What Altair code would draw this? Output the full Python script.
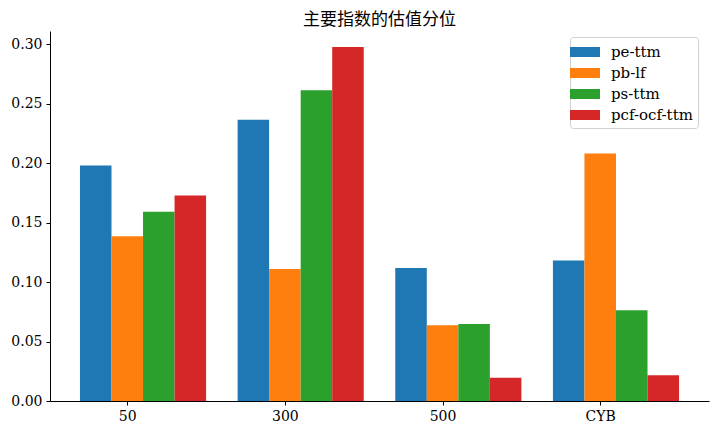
import json
import altair as alt
import pandas as pd

categories = ["50", "300", "500", "CYB"]
series = ["pe-ttm", "pb-lf", "ps-ttm", "pcf-ocf-ttm"]
pe_ttm = [0.198, 0.2364, 0.1118, 0.1182]
pb_lf = [0.1384, 0.1109, 0.0636, 0.2081]
ps_ttm = [0.159, 0.2613, 0.0647, 0.0762]
pcf_ocf_ttm = [0.1728, 0.2975, 0.0196, 0.0216]
colors = ["#1f77b4", "#ff7f0e", "#2ca02c", "#d62728"]

rows = []
for s_i, (name, vals) in enumerate(zip(series, [pe_ttm, pb_lf, ps_ttm, pcf_ocf_ttm])):
    for c_i, (cat, v) in enumerate(zip(categories, vals)):
        rows.append({"cat": cat, "idx": c_i, "series": name, "s": s_i, "value": v})
df = pd.DataFrame(rows)

FONT = "DejaVu Serif, Noto Sans CJK SC"
label_expr = json.dumps(categories) + "[datum.value]"

chart = (
    alt.Chart(df)
    .transform_calculate(x0="datum.idx + (datum.s - 1) * 0.2 - 0.1")
    .transform_calculate(x1="datum.x0 + 0.2")
    .mark_bar()
    .encode(
        x=alt.X(
            "x0:Q",
            scale=alt.Scale(domain=[-0.49, 3.69], nice=False, zero=False),
            axis=alt.Axis(
                values=[0, 1, 2, 3],
                labelExpr=label_expr,
                title=None,
                grid=False,
                tickSize=4,
                labelPadding=4,
            ),
        ),
        x2="x1:Q",
        y=alt.Y(
            "value:Q",
            scale=alt.Scale(domain=[0, 0.311], nice=False, padding=0),
            axis=alt.Axis(
                values=[0, 0.05, 0.1, 0.15, 0.2, 0.25, 0.3],
                format=".2f",
                title=None,
                grid=False,
                tickSize=4,
                labelPadding=4,
            ),
        ),
        y2=alt.datum(0),
        color=alt.Color(
            "series:N",
            scale=alt.Scale(domain=series, range=colors),
            sort=series,
            legend=alt.Legend(
                title=None,
                orient="none",
                legendX=520,
                legendY=6,
                symbolType="M-1.5,-0.5H1.5V0.5H-1.5Z",
                symbolSize=400,
                symbolStrokeWidth=0,
                labelFontSize=15,
                labelFont=FONT,
                labelColor="#000",
                labelOffset=16,
                rowPadding=3,
                padding=5,
                strokeColor="#d0d0d0",
                cornerRadius=3,
                fillColor="white",
            ),
        ),
    )
    .properties(
        width=659,
        height=370,
        title=alt.TitleParams(
            "主要指数的估值分位",
            font=FONT,
            fontSize=17,
            fontWeight="normal",
            color="#000",
            offset=2,
        ),
        autosize=alt.AutoSizeParams(type="none"),
        padding={"left": 42, "top": 23, "right": 3, "bottom": 23},
    )
    .configure_view(stroke=None)
    .configure_axis(
        labelFont=FONT,
        labelFontSize=14,
        labelColor="#000",
        domainColor="#000",
        tickColor="#000",
        domainWidth=1,
    )
)

chart.save("out.html", embed_options={"renderer": "svg", "actions": False})
